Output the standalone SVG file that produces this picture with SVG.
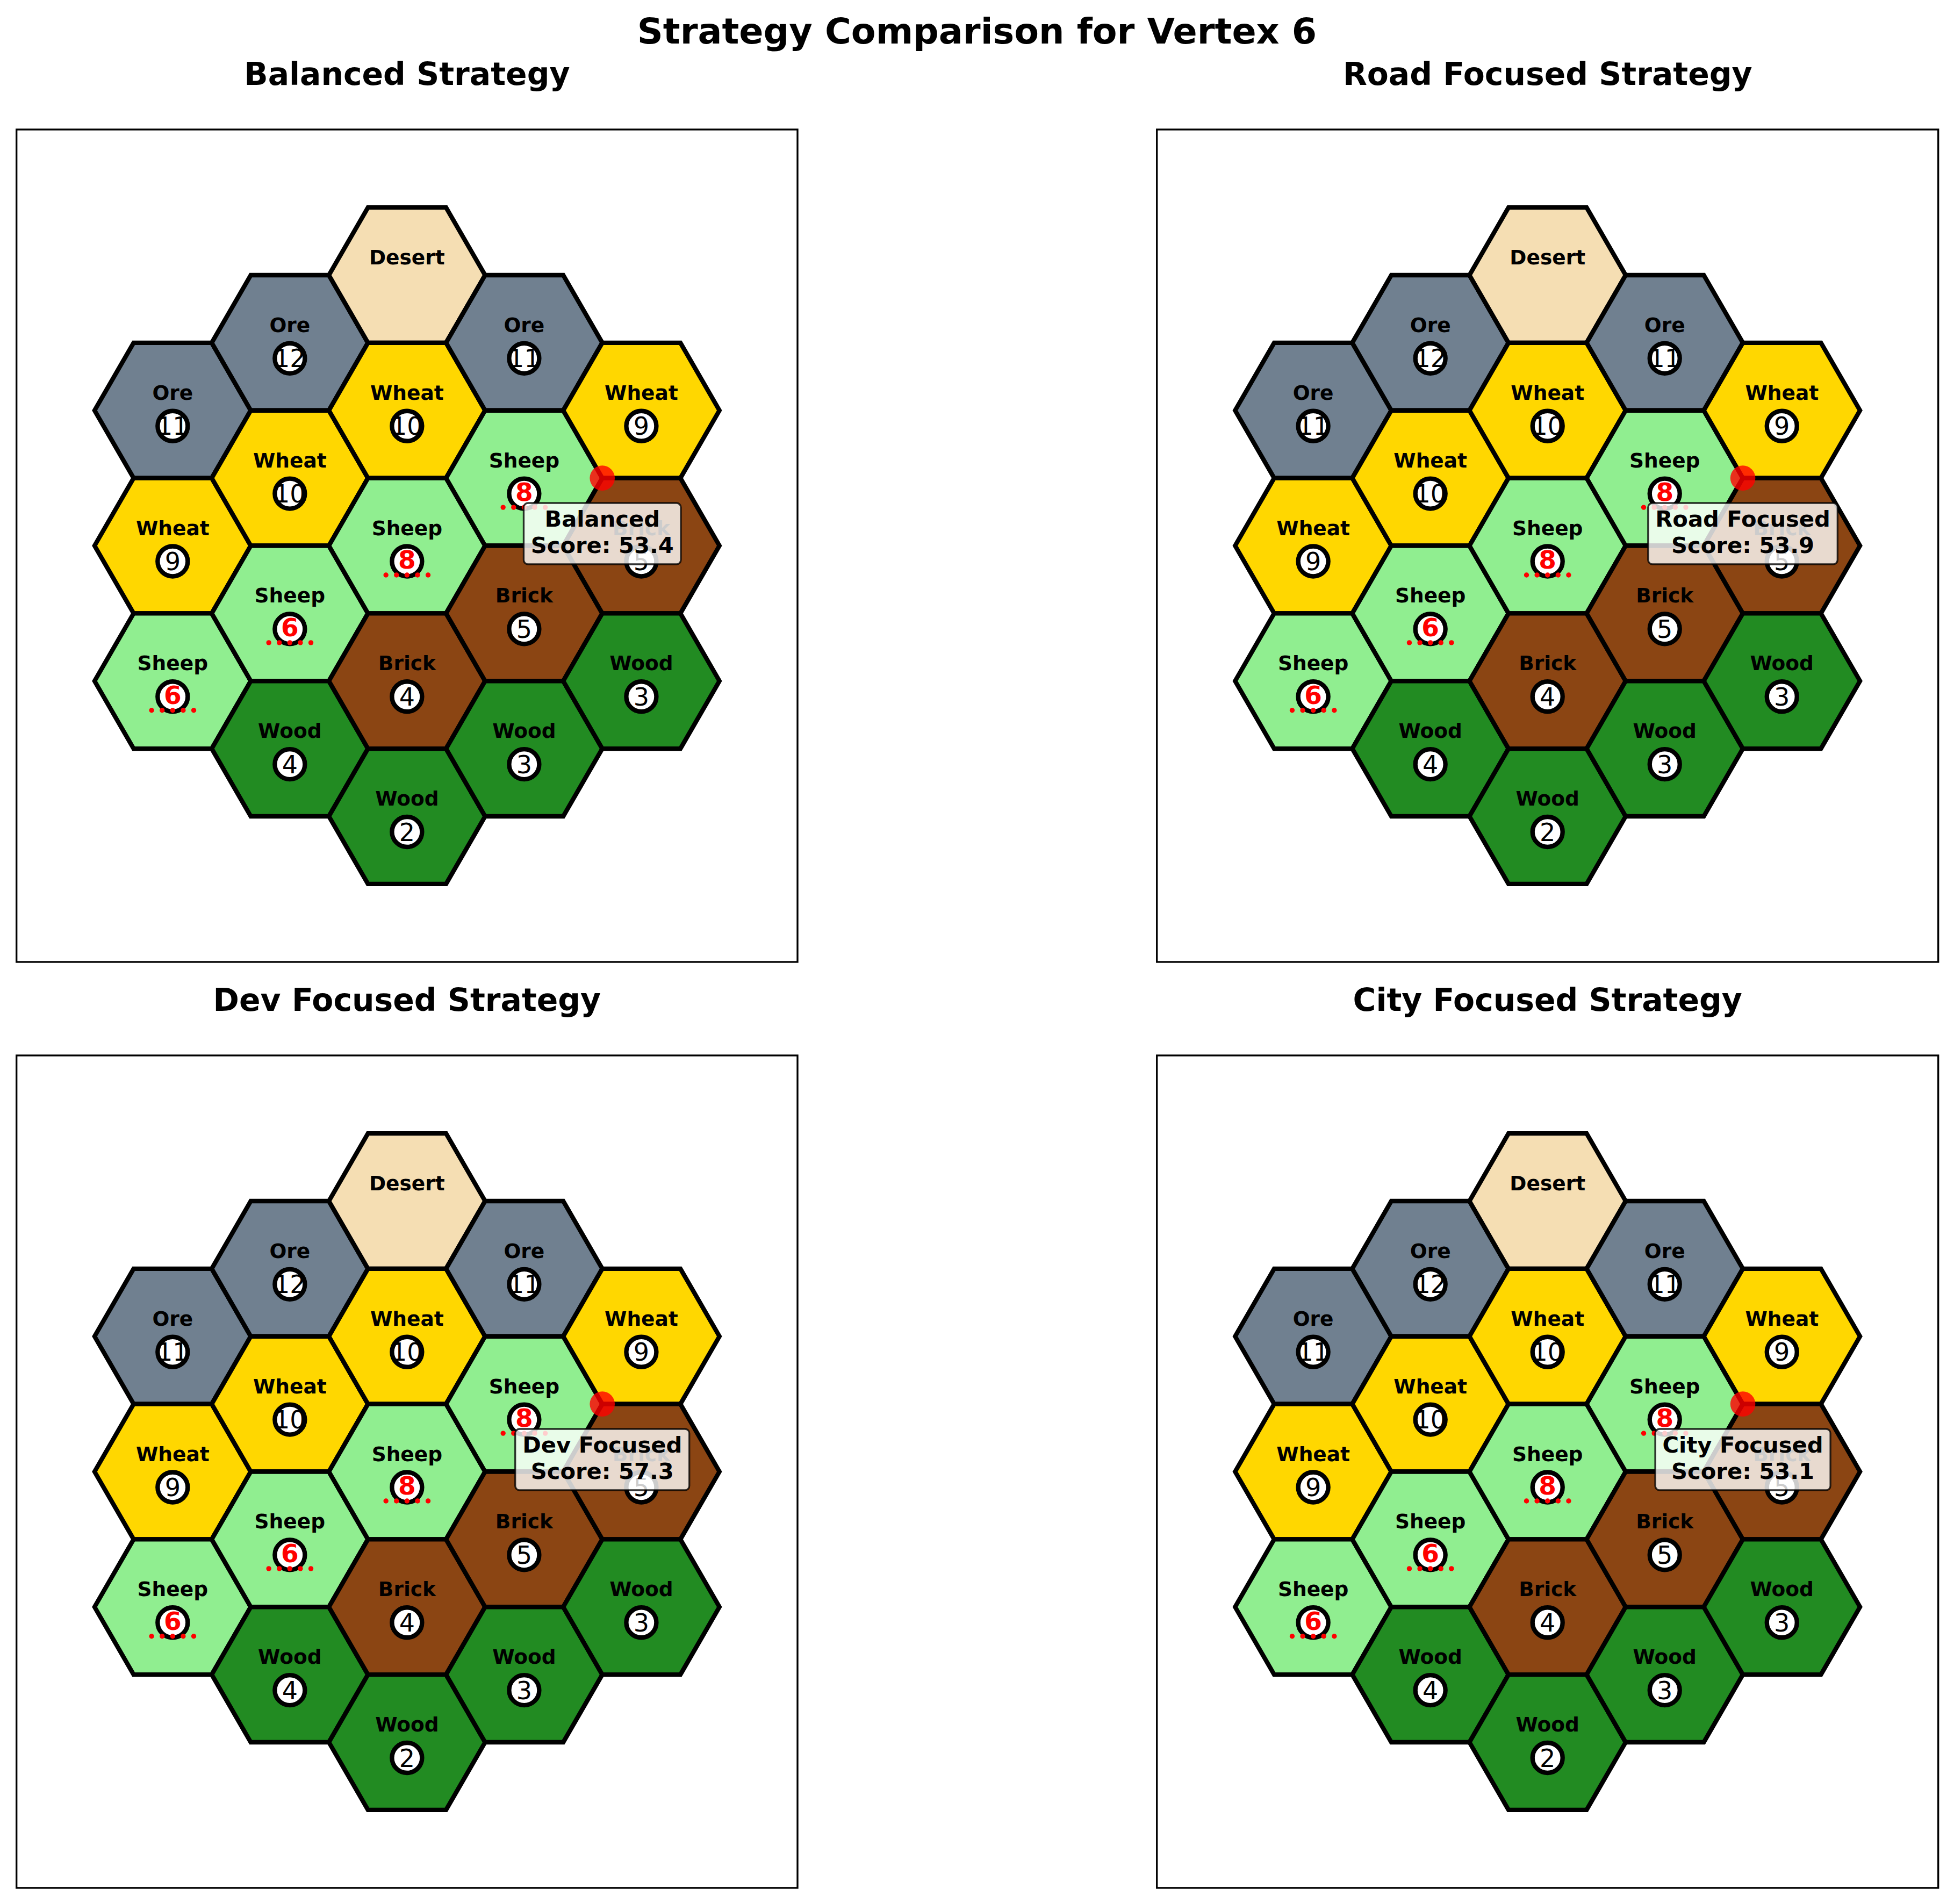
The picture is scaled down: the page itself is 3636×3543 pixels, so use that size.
<svg xmlns="http://www.w3.org/2000/svg" xmlns:xlink="http://www.w3.org/1999/xlink" width="3636" height="3543" viewBox="0 0 3636 3543">
<style>
.bg{fill:#fff}
.frame{fill:none;stroke:#000;stroke-width:3.33}
.hex{stroke:#000;stroke-width:8.33;stroke-linejoin:miter}
.ore{fill:#708090}.wheat{fill:#FFD700}.sheep{fill:#90EE90}.brick{fill:#8B4513}.wood{fill:#228B22}.desert{fill:#F5DEB3}
text{font-family:"DejaVu Sans","Liberation Sans",sans-serif;text-anchor:middle;fill:#000}
.lbl{font-weight:bold;font-size:37.5px}
.tok{fill:#fff;stroke:#000;stroke-width:8.33}
.num{font-size:46px}
.hot{font-weight:bold;font-size:47px;fill:#ff0000}
.pips circle{fill:#ff0000}
.vtx{fill:#ff0000;fill-opacity:0.8}
.annbox{fill:#fff;fill-opacity:0.8;stroke:#000;stroke-opacity:0.8;stroke-width:3.3}
.ann{font-weight:bold;font-size:41.67px}
.sub{font-weight:bold;font-size:58.33px}
.title{font-weight:bold;font-size:66.67px}
</style>
<defs>
<polygon id="hx" points="145.35,0 72.68,125.88 -72.68,125.88 -145.35,0 -72.68,-125.88 72.68,-125.88"/>
<g id="pp" class="pips"><circle cx="-39.2" cy="54.5" r="4.7"/><circle cx="-19.6" cy="54.5" r="4.7"/><circle cx="0" cy="54.5" r="4.7"/><circle cx="19.6" cy="54.5" r="4.7"/><circle cx="39.2" cy="54.5" r="4.7"/></g>
</defs>
<rect class="bg" x="0" y="0" width="3636" height="3543"/>
<text class="title" x="1818" y="81">Strategy Comparison for Vertex 6</text>
<g id="connectors"/>

<!-- Panel 1 -->
<g id="panel-balanced">
<text class="sub" x="757.35" y="157.7">Balanced Strategy</text>
<rect class="frame" x="30.7" y="241" width="1453.3" height="1549"/>
<g transform="translate(757.35,1015.5)">
<g id="p1-h01" transform="translate(-436.05,-251.75)"><use xlink:href="#hx" class="hex ore"/><text class="lbl" y="-20">Ore</text><circle class="tok" cy="29" r="28"/><text class="num" y="45.5">11</text></g>
<g id="p1-h02" transform="translate(-436.05,0)"><use xlink:href="#hx" class="hex wheat"/><text class="lbl" y="-20">Wheat</text><circle class="tok" cy="29" r="28"/><text class="num" y="45.5">9</text></g>
<g id="p1-h03" transform="translate(-436.05,251.75)"><use xlink:href="#hx" class="hex sheep"/><text class="lbl" y="-20">Sheep</text><circle class="tok" cy="29" r="28"/><text class="hot" y="42.5">6</text><use xlink:href="#pp"/></g>
<g id="p1-h04" transform="translate(-218.03,-377.63)"><use xlink:href="#hx" class="hex ore"/><text class="lbl" y="-20">Ore</text><circle class="tok" cy="29" r="28"/><text class="num" y="45.5">12</text></g>
<g id="p1-h05" transform="translate(-218.03,-125.88)"><use xlink:href="#hx" class="hex wheat"/><text class="lbl" y="-20">Wheat</text><circle class="tok" cy="29" r="28"/><text class="num" y="45.5">10</text></g>
<g id="p1-h06" transform="translate(-218.03,125.88)"><use xlink:href="#hx" class="hex sheep"/><text class="lbl" y="-20">Sheep</text><circle class="tok" cy="29" r="28"/><text class="hot" y="42.5">6</text><use xlink:href="#pp"/></g>
<g id="p1-h07" transform="translate(-218.03,377.63)"><use xlink:href="#hx" class="hex wood"/><text class="lbl" y="-20">Wood</text><circle class="tok" cy="29" r="28"/><text class="num" y="45.5">4</text></g>
<g id="p1-h08" transform="translate(0,-503.5)"><use xlink:href="#hx" class="hex desert"/><text class="lbl" y="-20">Desert</text></g>
<g id="p1-h09" transform="translate(0,-251.75)"><use xlink:href="#hx" class="hex wheat"/><text class="lbl" y="-20">Wheat</text><circle class="tok" cy="29" r="28"/><text class="num" y="45.5">10</text></g>
<g id="p1-h10" transform="translate(0,0)"><use xlink:href="#hx" class="hex sheep"/><text class="lbl" y="-20">Sheep</text><circle class="tok" cy="29" r="28"/><text class="hot" y="42.5">8</text><use xlink:href="#pp"/></g>
<g id="p1-h11" transform="translate(0,251.75)"><use xlink:href="#hx" class="hex brick"/><text class="lbl" y="-20">Brick</text><circle class="tok" cy="29" r="28"/><text class="num" y="45.5">4</text></g>
<g id="p1-h12" transform="translate(0,503.5)"><use xlink:href="#hx" class="hex wood"/><text class="lbl" y="-20">Wood</text><circle class="tok" cy="29" r="28"/><text class="num" y="45.5">2</text></g>
<g id="p1-h13" transform="translate(218.03,-377.63)"><use xlink:href="#hx" class="hex ore"/><text class="lbl" y="-20">Ore</text><circle class="tok" cy="29" r="28"/><text class="num" y="45.5">11</text></g>
<g id="p1-h14" transform="translate(218.03,-125.88)"><use xlink:href="#hx" class="hex sheep"/><text class="lbl" y="-20">Sheep</text><circle class="tok" cy="29" r="28"/><text class="hot" y="42.5">8</text><use xlink:href="#pp"/></g>
<g id="p1-h15" transform="translate(218.03,125.88)"><use xlink:href="#hx" class="hex brick"/><text class="lbl" y="-20">Brick</text><circle class="tok" cy="29" r="28"/><text class="num" y="45.5">5</text></g>
<g id="p1-h16" transform="translate(218.03,377.63)"><use xlink:href="#hx" class="hex wood"/><text class="lbl" y="-20">Wood</text><circle class="tok" cy="29" r="28"/><text class="num" y="45.5">3</text></g>
<g id="p1-h17" transform="translate(436.05,-251.75)"><use xlink:href="#hx" class="hex wheat"/><text class="lbl" y="-20">Wheat</text><circle class="tok" cy="29" r="28"/><text class="num" y="45.5">9</text></g>
<g id="p1-h18" transform="translate(436.05,0)"><use xlink:href="#hx" class="hex brick"/><text class="lbl" y="-20">Brick</text><circle class="tok" cy="29" r="28"/><text class="num" y="45.5">5</text></g>
<g id="p1-h19" transform="translate(436.05,251.75)"><use xlink:href="#hx" class="hex wood"/><text class="lbl" y="-20">Wood</text><circle class="tok" cy="29" r="28"/><text class="num" y="45.5">3</text></g>
<g id="p1-vertex"><circle class="vtx" cx="363.37" cy="-125.88" r="23.3"/></g>
<g id="p1-note"><rect class="annbox" x="217.12" y="-79.5" width="292.5" height="114" rx="8"/><text class="ann" x="363.37" y="-35.1">Balanced</text><text class="ann" x="363.37" y="13.5">Score: 53.4</text></g>
</g>
</g>

<!-- Panel 2 -->
<g id="panel-road">
<text class="sub" x="2879.7" y="157.7">Road Focused Strategy</text>
<rect class="frame" x="2152.7" y="241" width="1454" height="1549"/>
<g transform="translate(2879.7,1015.5)">
<g id="p2-h01" transform="translate(-436.05,-251.75)"><use xlink:href="#hx" class="hex ore"/><text class="lbl" y="-20">Ore</text><circle class="tok" cy="29" r="28"/><text class="num" y="45.5">11</text></g>
<g id="p2-h02" transform="translate(-436.05,0)"><use xlink:href="#hx" class="hex wheat"/><text class="lbl" y="-20">Wheat</text><circle class="tok" cy="29" r="28"/><text class="num" y="45.5">9</text></g>
<g id="p2-h03" transform="translate(-436.05,251.75)"><use xlink:href="#hx" class="hex sheep"/><text class="lbl" y="-20">Sheep</text><circle class="tok" cy="29" r="28"/><text class="hot" y="42.5">6</text><use xlink:href="#pp"/></g>
<g id="p2-h04" transform="translate(-218.03,-377.63)"><use xlink:href="#hx" class="hex ore"/><text class="lbl" y="-20">Ore</text><circle class="tok" cy="29" r="28"/><text class="num" y="45.5">12</text></g>
<g id="p2-h05" transform="translate(-218.03,-125.88)"><use xlink:href="#hx" class="hex wheat"/><text class="lbl" y="-20">Wheat</text><circle class="tok" cy="29" r="28"/><text class="num" y="45.5">10</text></g>
<g id="p2-h06" transform="translate(-218.03,125.88)"><use xlink:href="#hx" class="hex sheep"/><text class="lbl" y="-20">Sheep</text><circle class="tok" cy="29" r="28"/><text class="hot" y="42.5">6</text><use xlink:href="#pp"/></g>
<g id="p2-h07" transform="translate(-218.03,377.63)"><use xlink:href="#hx" class="hex wood"/><text class="lbl" y="-20">Wood</text><circle class="tok" cy="29" r="28"/><text class="num" y="45.5">4</text></g>
<g id="p2-h08" transform="translate(0,-503.5)"><use xlink:href="#hx" class="hex desert"/><text class="lbl" y="-20">Desert</text></g>
<g id="p2-h09" transform="translate(0,-251.75)"><use xlink:href="#hx" class="hex wheat"/><text class="lbl" y="-20">Wheat</text><circle class="tok" cy="29" r="28"/><text class="num" y="45.5">10</text></g>
<g id="p2-h10" transform="translate(0,0)"><use xlink:href="#hx" class="hex sheep"/><text class="lbl" y="-20">Sheep</text><circle class="tok" cy="29" r="28"/><text class="hot" y="42.5">8</text><use xlink:href="#pp"/></g>
<g id="p2-h11" transform="translate(0,251.75)"><use xlink:href="#hx" class="hex brick"/><text class="lbl" y="-20">Brick</text><circle class="tok" cy="29" r="28"/><text class="num" y="45.5">4</text></g>
<g id="p2-h12" transform="translate(0,503.5)"><use xlink:href="#hx" class="hex wood"/><text class="lbl" y="-20">Wood</text><circle class="tok" cy="29" r="28"/><text class="num" y="45.5">2</text></g>
<g id="p2-h13" transform="translate(218.03,-377.63)"><use xlink:href="#hx" class="hex ore"/><text class="lbl" y="-20">Ore</text><circle class="tok" cy="29" r="28"/><text class="num" y="45.5">11</text></g>
<g id="p2-h14" transform="translate(218.03,-125.88)"><use xlink:href="#hx" class="hex sheep"/><text class="lbl" y="-20">Sheep</text><circle class="tok" cy="29" r="28"/><text class="hot" y="42.5">8</text><use xlink:href="#pp"/></g>
<g id="p2-h15" transform="translate(218.03,125.88)"><use xlink:href="#hx" class="hex brick"/><text class="lbl" y="-20">Brick</text><circle class="tok" cy="29" r="28"/><text class="num" y="45.5">5</text></g>
<g id="p2-h16" transform="translate(218.03,377.63)"><use xlink:href="#hx" class="hex wood"/><text class="lbl" y="-20">Wood</text><circle class="tok" cy="29" r="28"/><text class="num" y="45.5">3</text></g>
<g id="p2-h17" transform="translate(436.05,-251.75)"><use xlink:href="#hx" class="hex wheat"/><text class="lbl" y="-20">Wheat</text><circle class="tok" cy="29" r="28"/><text class="num" y="45.5">9</text></g>
<g id="p2-h18" transform="translate(436.05,0)"><use xlink:href="#hx" class="hex brick"/><text class="lbl" y="-20">Brick</text><circle class="tok" cy="29" r="28"/><text class="num" y="45.5">5</text></g>
<g id="p2-h19" transform="translate(436.05,251.75)"><use xlink:href="#hx" class="hex wood"/><text class="lbl" y="-20">Wood</text><circle class="tok" cy="29" r="28"/><text class="num" y="45.5">3</text></g>
<g id="p2-vertex"><circle class="vtx" cx="363.37" cy="-125.88" r="23.3"/></g>
<g id="p2-note"><rect class="annbox" x="187.12" y="-79.5" width="352.5" height="114" rx="8"/><text class="ann" x="363.37" y="-35.1">Road Focused</text><text class="ann" x="363.37" y="13.5">Score: 53.9</text></g>
</g>
</g>

<!-- Panel 3 -->
<g id="panel-dev">
<text class="sub" x="757.35" y="1880.7">Dev Focused Strategy</text>
<rect class="frame" x="30.7" y="1964" width="1453.3" height="1549"/>
<g transform="translate(757.35,2738.5)">
<g id="p3-h01" transform="translate(-436.05,-251.75)"><use xlink:href="#hx" class="hex ore"/><text class="lbl" y="-20">Ore</text><circle class="tok" cy="29" r="28"/><text class="num" y="45.5">11</text></g>
<g id="p3-h02" transform="translate(-436.05,0)"><use xlink:href="#hx" class="hex wheat"/><text class="lbl" y="-20">Wheat</text><circle class="tok" cy="29" r="28"/><text class="num" y="45.5">9</text></g>
<g id="p3-h03" transform="translate(-436.05,251.75)"><use xlink:href="#hx" class="hex sheep"/><text class="lbl" y="-20">Sheep</text><circle class="tok" cy="29" r="28"/><text class="hot" y="42.5">6</text><use xlink:href="#pp"/></g>
<g id="p3-h04" transform="translate(-218.03,-377.63)"><use xlink:href="#hx" class="hex ore"/><text class="lbl" y="-20">Ore</text><circle class="tok" cy="29" r="28"/><text class="num" y="45.5">12</text></g>
<g id="p3-h05" transform="translate(-218.03,-125.88)"><use xlink:href="#hx" class="hex wheat"/><text class="lbl" y="-20">Wheat</text><circle class="tok" cy="29" r="28"/><text class="num" y="45.5">10</text></g>
<g id="p3-h06" transform="translate(-218.03,125.88)"><use xlink:href="#hx" class="hex sheep"/><text class="lbl" y="-20">Sheep</text><circle class="tok" cy="29" r="28"/><text class="hot" y="42.5">6</text><use xlink:href="#pp"/></g>
<g id="p3-h07" transform="translate(-218.03,377.63)"><use xlink:href="#hx" class="hex wood"/><text class="lbl" y="-20">Wood</text><circle class="tok" cy="29" r="28"/><text class="num" y="45.5">4</text></g>
<g id="p3-h08" transform="translate(0,-503.5)"><use xlink:href="#hx" class="hex desert"/><text class="lbl" y="-20">Desert</text></g>
<g id="p3-h09" transform="translate(0,-251.75)"><use xlink:href="#hx" class="hex wheat"/><text class="lbl" y="-20">Wheat</text><circle class="tok" cy="29" r="28"/><text class="num" y="45.5">10</text></g>
<g id="p3-h10" transform="translate(0,0)"><use xlink:href="#hx" class="hex sheep"/><text class="lbl" y="-20">Sheep</text><circle class="tok" cy="29" r="28"/><text class="hot" y="42.5">8</text><use xlink:href="#pp"/></g>
<g id="p3-h11" transform="translate(0,251.75)"><use xlink:href="#hx" class="hex brick"/><text class="lbl" y="-20">Brick</text><circle class="tok" cy="29" r="28"/><text class="num" y="45.5">4</text></g>
<g id="p3-h12" transform="translate(0,503.5)"><use xlink:href="#hx" class="hex wood"/><text class="lbl" y="-20">Wood</text><circle class="tok" cy="29" r="28"/><text class="num" y="45.5">2</text></g>
<g id="p3-h13" transform="translate(218.03,-377.63)"><use xlink:href="#hx" class="hex ore"/><text class="lbl" y="-20">Ore</text><circle class="tok" cy="29" r="28"/><text class="num" y="45.5">11</text></g>
<g id="p3-h14" transform="translate(218.03,-125.88)"><use xlink:href="#hx" class="hex sheep"/><text class="lbl" y="-20">Sheep</text><circle class="tok" cy="29" r="28"/><text class="hot" y="42.5">8</text><use xlink:href="#pp"/></g>
<g id="p3-h15" transform="translate(218.03,125.88)"><use xlink:href="#hx" class="hex brick"/><text class="lbl" y="-20">Brick</text><circle class="tok" cy="29" r="28"/><text class="num" y="45.5">5</text></g>
<g id="p3-h16" transform="translate(218.03,377.63)"><use xlink:href="#hx" class="hex wood"/><text class="lbl" y="-20">Wood</text><circle class="tok" cy="29" r="28"/><text class="num" y="45.5">3</text></g>
<g id="p3-h17" transform="translate(436.05,-251.75)"><use xlink:href="#hx" class="hex wheat"/><text class="lbl" y="-20">Wheat</text><circle class="tok" cy="29" r="28"/><text class="num" y="45.5">9</text></g>
<g id="p3-h18" transform="translate(436.05,0)"><use xlink:href="#hx" class="hex brick"/><text class="lbl" y="-20">Brick</text><circle class="tok" cy="29" r="28"/><text class="num" y="45.5">5</text></g>
<g id="p3-h19" transform="translate(436.05,251.75)"><use xlink:href="#hx" class="hex wood"/><text class="lbl" y="-20">Wood</text><circle class="tok" cy="29" r="28"/><text class="num" y="45.5">3</text></g>
<g id="p3-vertex"><circle class="vtx" cx="363.37" cy="-125.88" r="23.3"/></g>
<g id="p3-note"><rect class="annbox" x="201.37" y="-79.5" width="324" height="114" rx="8"/><text class="ann" x="363.37" y="-35.1">Dev Focused</text><text class="ann" x="363.37" y="13.5">Score: 57.3</text></g>
</g>
</g>

<!-- Panel 4 -->
<g id="panel-city">
<text class="sub" x="2879.7" y="1880.7">City Focused Strategy</text>
<rect class="frame" x="2152.7" y="1964" width="1454" height="1549"/>
<g transform="translate(2879.7,2738.5)">
<g id="p4-h01" transform="translate(-436.05,-251.75)"><use xlink:href="#hx" class="hex ore"/><text class="lbl" y="-20">Ore</text><circle class="tok" cy="29" r="28"/><text class="num" y="45.5">11</text></g>
<g id="p4-h02" transform="translate(-436.05,0)"><use xlink:href="#hx" class="hex wheat"/><text class="lbl" y="-20">Wheat</text><circle class="tok" cy="29" r="28"/><text class="num" y="45.5">9</text></g>
<g id="p4-h03" transform="translate(-436.05,251.75)"><use xlink:href="#hx" class="hex sheep"/><text class="lbl" y="-20">Sheep</text><circle class="tok" cy="29" r="28"/><text class="hot" y="42.5">6</text><use xlink:href="#pp"/></g>
<g id="p4-h04" transform="translate(-218.03,-377.63)"><use xlink:href="#hx" class="hex ore"/><text class="lbl" y="-20">Ore</text><circle class="tok" cy="29" r="28"/><text class="num" y="45.5">12</text></g>
<g id="p4-h05" transform="translate(-218.03,-125.88)"><use xlink:href="#hx" class="hex wheat"/><text class="lbl" y="-20">Wheat</text><circle class="tok" cy="29" r="28"/><text class="num" y="45.5">10</text></g>
<g id="p4-h06" transform="translate(-218.03,125.88)"><use xlink:href="#hx" class="hex sheep"/><text class="lbl" y="-20">Sheep</text><circle class="tok" cy="29" r="28"/><text class="hot" y="42.5">6</text><use xlink:href="#pp"/></g>
<g id="p4-h07" transform="translate(-218.03,377.63)"><use xlink:href="#hx" class="hex wood"/><text class="lbl" y="-20">Wood</text><circle class="tok" cy="29" r="28"/><text class="num" y="45.5">4</text></g>
<g id="p4-h08" transform="translate(0,-503.5)"><use xlink:href="#hx" class="hex desert"/><text class="lbl" y="-20">Desert</text></g>
<g id="p4-h09" transform="translate(0,-251.75)"><use xlink:href="#hx" class="hex wheat"/><text class="lbl" y="-20">Wheat</text><circle class="tok" cy="29" r="28"/><text class="num" y="45.5">10</text></g>
<g id="p4-h10" transform="translate(0,0)"><use xlink:href="#hx" class="hex sheep"/><text class="lbl" y="-20">Sheep</text><circle class="tok" cy="29" r="28"/><text class="hot" y="42.5">8</text><use xlink:href="#pp"/></g>
<g id="p4-h11" transform="translate(0,251.75)"><use xlink:href="#hx" class="hex brick"/><text class="lbl" y="-20">Brick</text><circle class="tok" cy="29" r="28"/><text class="num" y="45.5">4</text></g>
<g id="p4-h12" transform="translate(0,503.5)"><use xlink:href="#hx" class="hex wood"/><text class="lbl" y="-20">Wood</text><circle class="tok" cy="29" r="28"/><text class="num" y="45.5">2</text></g>
<g id="p4-h13" transform="translate(218.03,-377.63)"><use xlink:href="#hx" class="hex ore"/><text class="lbl" y="-20">Ore</text><circle class="tok" cy="29" r="28"/><text class="num" y="45.5">11</text></g>
<g id="p4-h14" transform="translate(218.03,-125.88)"><use xlink:href="#hx" class="hex sheep"/><text class="lbl" y="-20">Sheep</text><circle class="tok" cy="29" r="28"/><text class="hot" y="42.5">8</text><use xlink:href="#pp"/></g>
<g id="p4-h15" transform="translate(218.03,125.88)"><use xlink:href="#hx" class="hex brick"/><text class="lbl" y="-20">Brick</text><circle class="tok" cy="29" r="28"/><text class="num" y="45.5">5</text></g>
<g id="p4-h16" transform="translate(218.03,377.63)"><use xlink:href="#hx" class="hex wood"/><text class="lbl" y="-20">Wood</text><circle class="tok" cy="29" r="28"/><text class="num" y="45.5">3</text></g>
<g id="p4-h17" transform="translate(436.05,-251.75)"><use xlink:href="#hx" class="hex wheat"/><text class="lbl" y="-20">Wheat</text><circle class="tok" cy="29" r="28"/><text class="num" y="45.5">9</text></g>
<g id="p4-h18" transform="translate(436.05,0)"><use xlink:href="#hx" class="hex brick"/><text class="lbl" y="-20">Brick</text><circle class="tok" cy="29" r="28"/><text class="num" y="45.5">5</text></g>
<g id="p4-h19" transform="translate(436.05,251.75)"><use xlink:href="#hx" class="hex wood"/><text class="lbl" y="-20">Wood</text><circle class="tok" cy="29" r="28"/><text class="num" y="45.5">3</text></g>
<g id="p4-vertex"><circle class="vtx" cx="363.37" cy="-125.88" r="23.3"/></g>
<g id="p4-note"><rect class="annbox" x="200.37" y="-79.5" width="326" height="114" rx="8"/><text class="ann" x="363.37" y="-35.1">City Focused</text><text class="ann" x="363.37" y="13.5">Score: 53.1</text></g>
</g>
</g>
</svg>
